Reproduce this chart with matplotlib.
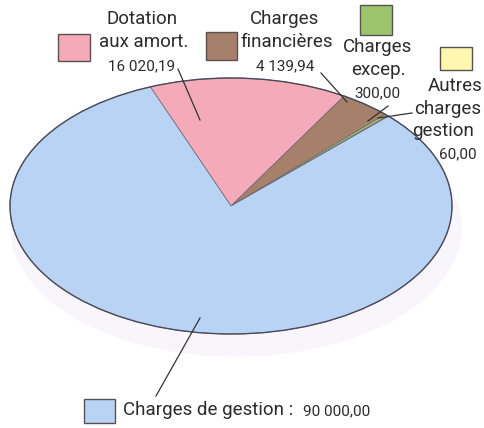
import matplotlib.pyplot as plt
from matplotlib.patches import Ellipse, Rectangle

# data
categories = ["Dotation aux amort.", "Charges financières", "Charges excep.",
              "Autres charges gestion", "Charges de gestion"]
values = [16020.19, 4139.94, 300.00, 60.00, 90000.00]
value_labels = ["16 020,19", "4 139,94", "300,00", "60,00", "90 000,00"]
colors = ["#f5aab9", "#a6806a", "#9cc46c", "#fdf7b0", "#b8d3f3"]

W, H = 485, 428
rx, ry = 221, 128          # ellipse half axes in pixels
k = rx / ry                # vertical stretch of data units


def px(x, y):
    # pixel position (from top-left) -> data coords
    return x, (H - y) * k


plt.rcParams['font.family'] = ['Roboto', 'DejaVu Sans']

fig = plt.figure(figsize=(W / 100, H / 100), dpi=100)
ax = fig.add_axes([0, 0, 1, 1])

cx, cy = px(231, 206)

# faint shadow below the pie
ax.add_patch(Ellipse(px(236, 228), 2 * rx + 8, 2 * rx, color="#f9f6fb", zorder=0))

wedges, _ = ax.pie(values, colors=colors, startangle=111.4, counterclock=False,
                   radius=rx, center=(cx, cy), frame=True,
                   wedgeprops=dict(edgecolor="#6b6470", linewidth=0.5))
ax.set_aspect("auto")
ax.set_xlim(0, W)
ax.set_ylim(0, H * k)
ax.axis("off")

# outer rim
ax.add_patch(Ellipse((cx, cy), 2 * rx, 2 * rx, fill=False, edgecolor="#4a4a5a", lw=1.0, zorder=5))

big = 13.5
small = 11
tc = "#2b2b2b"


def square(x0, y0, w, h, c):
    x, y = px(x0, y0 + h)
    ax.add_patch(Rectangle((x, y), w, h * k, facecolor=c, edgecolor="#5a5050", lw=1.0, zorder=6))


def txt(x, y, s, size, ha="center"):
    ax.text(*px(x, y), s, fontsize=size, ha=ha, va="center", color=tc, zorder=7)


def line(x0, y0, x1, y1):
    a, b = px(x0, y0)
    c, d = px(x1, y1)
    ax.plot([a, c], [b, d], color="#333333", lw=0.9, zorder=7)


# Dotation
square(58, 34, 32, 27, colors[0])
txt(142, 19, "Dotation", big)
txt(144, 42, "aux amort.", big)
txt(142, 66, value_labels[0], small)
line(178, 69, 200, 120)

# Financieres
square(206, 32, 31, 28, colors[1])
txt(285, 19, "Charges", big)
txt(287, 42, "financières", big)
txt(285, 66, value_labels[1], small)
line(321, 73, 347, 102)

# Excep
square(360, 5, 32, 30, colors[2])
txt(378, 47, "Charges", big)
txt(378, 70, "excep.", big)
txt(377, 93, value_labels[2], small)
line(388, 106, 368, 121)

# Autres
square(440, 47, 32, 23, colors[3])
txt(455, 86, "Autres", big)
txt(448, 109, "charges", big)
txt(443, 131, "gestion", big)
txt(458, 154, value_labels[3], small)
line(412, 113, 378, 118)

# Charges de gestion
square(84, 399, 31, 24, colors[4])
txt(123, 410, "Charges de gestion :", big, ha="left")
txt(303, 411, value_labels[4], small, ha="left")
line(200, 318, 156, 396)

fig.savefig("out.png", dpi=100)
